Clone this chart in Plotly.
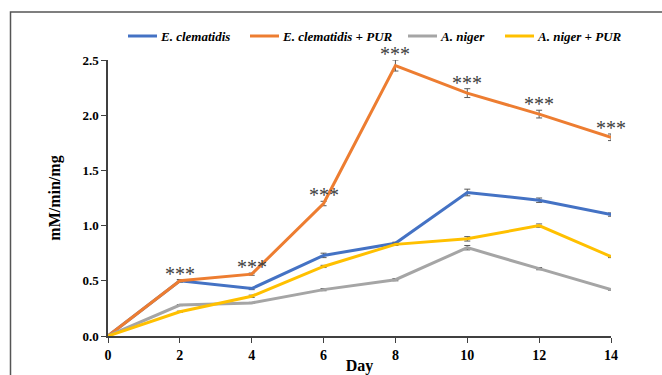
import plotly.graph_objects as go

# Sampling days
days = [0, 2, 4, 6, 8, 10, 12, 14]

# Specific activity (mM/min/mg) per series
ec = [0.0, 0.50, 0.43, 0.73, 0.84, 1.30, 1.23, 1.10]
ec_err = [0.0, 0.01, 0.01, 0.02, 0.01, 0.03, 0.02, 0.015]
ec_pur = [0.0, 0.50, 0.56, 1.20, 2.45, 2.20, 2.01, 1.80]
ec_pur_err = [0.0, 0.01, 0.01, 0.02, 0.05, 0.04, 0.035, 0.03]
an = [0.0, 0.28, 0.30, 0.42, 0.51, 0.80, 0.61, 0.42]
an_err = [0.0, 0.005, 0.005, 0.01, 0.01, 0.02, 0.01, 0.005]
an_pur = [0.0, 0.22, 0.36, 0.63, 0.83, 0.88, 1.00, 0.72]
an_pur_err = [0.0, 0.005, 0.01, 0.01, 0.01, 0.02, 0.015, 0.01]

# Days marked as significant for the PUR-treated E. clematidis culture
sig_days = [2, 4, 6, 8, 10, 12, 14]
sig_label = "***"

names = ["E. clematidis", "E. clematidis + PUR", "A. niger", "A. niger + PUR"]
colors = ["#4472C4", "#ED7D31", "#A5A5A5", "#FFC000"]
values = [ec, ec_pur, an, an_pur]
errors = [ec_err, ec_pur_err, an_err, an_pur_err]

serif = "Liberation Serif"

fig = go.Figure()
for name, col, v, e in zip(names, colors, values, errors):
    fig.add_trace(go.Scatter(
        x=days, y=v, name=name, mode="lines",
        line=dict(color=col, width=3),
        error_y=dict(type="data", array=e, visible=True,
                     color="#595959", thickness=1, width=3),
        showlegend=False,
    ))

# Significance markers above the E. clematidis + PUR curve
annotations = []
for d in sig_days:
    i = days.index(d)
    annotations.append(dict(
        x=d, y=ec_pur[i] + ec_pur_err[i], xref="x", yref="y",
        text=sig_label, showarrow=False, yanchor="bottom", yshift=-7,
        font=dict(family=serif, size=20, color="#404040"),
    ))

# Hand-drawn legend row across the top
plot_l, plot_w = 108, 503
plot_b, plot_h = 336, 276
def px(xp):
    return (xp - plot_l) / plot_w
def py(yp):
    return (plot_b - yp) / plot_h

legend_x = [128, 250, 408, 505]
legend_y = 36
shapes = []
for lx, col, name in zip(legend_x, colors, names):
    shapes.append(dict(type="line", xref="paper", yref="paper",
                       x0=px(lx), x1=px(lx + 29), y0=py(legend_y), y1=py(legend_y),
                       line=dict(color=col, width=3)))
    annotations.append(dict(
        x=px(lx + 30), y=py(legend_y), xref="paper", yref="paper",
        xanchor="left", yanchor="middle", showarrow=False,
        text=name,
        font=dict(family=serif, size=13, color="black", style="italic", weight="bold"),
    ))

# Outer frame of the figure
shapes.append(dict(type="rect", xref="paper", yref="paper",
                   x0=px(10.5), x1=px(700), y0=py(12), y1=py(400),
                   line=dict(color="#555555", width=1.5), fillcolor="rgba(0,0,0,0)"))

fig.update_layout(
    width=662, height=375,
    margin=dict(l=108, r=51, t=60, b=39),
    plot_bgcolor="white", paper_bgcolor="white",
    font=dict(family=serif, color="black", size=13),
    annotations=annotations,
    shapes=shapes,
    xaxis=dict(
        range=[0, 14], tickvals=days, ticktext=[f"<b>{d}</b>" for d in days],
        showline=True, linecolor="#404040", linewidth=1.5,
        ticks="outside", ticklen=5, tickcolor="#404040",
        showgrid=False, zeroline=False, automargin=False,
        title=dict(text="<b>Day</b>", font=dict(size=16), standoff=8),
        tickfont=dict(size=14),
    ),
    yaxis=dict(
        range=[0, 2.5], tickvals=[0, 0.5, 1.0, 1.5, 2.0, 2.5],
        ticktext=["<b>0.0</b>", "<b>0.5</b>", "<b>1.0</b>", "<b>1.5</b>", "<b>2.0</b>", "<b>2.5</b>"],
        showline=True, linecolor="#404040", linewidth=1.5,
        ticks="outside", ticklen=5, tickcolor="#404040",
        showgrid=False, zeroline=False, automargin=False,
        title=dict(text="<b>mM/min/mg</b>", font=dict(size=16), standoff=18),
        tickfont=dict(size=13),
    ),
)

fig.write_html("out.html")
